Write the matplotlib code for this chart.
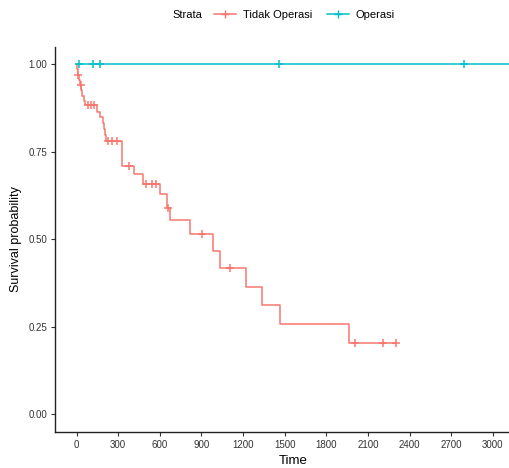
import numpy as np
import matplotlib.pyplot as plt
from matplotlib.lines import Line2D

plt.rcParams['font.family'] = ['Liberation Sans', 'DejaVu Sans']

# Kaplan-Meier estimates per stratum: event times and survival after each event
tidak_times = [0, 4, 8, 14, 22, 32, 42, 52, 62, 150, 172, 193, 200, 205, 209,
               324, 410, 482, 604, 654, 676, 820, 985, 1036, 1223, 1338, 1467, 1963]
tidak_surv = [1.0, 0.985, 0.97, 0.955, 0.94, 0.925, 0.91, 0.895, 0.882, 0.862, 0.848,
              0.832, 0.815, 0.797, 0.779, 0.71, 0.687, 0.658, 0.629, 0.589, 0.555,
              0.514, 0.466, 0.418, 0.365, 0.313, 0.259, 0.205]
tidak_censor = [10, 28, 79, 101, 122, 223, 252, 288, 374, 503, 540, 575, 661, 906,
                1107, 2006, 2208, 2301]
tidak_end = 2301

operasi_times = [0]
operasi_surv = [1.0]
operasi_censor = [20, 120, 165, 1460, 2790]
operasi_end = 3120

red = '#F8766D'
teal = '#00BFC4'


def surv_at(times, surv, t):
    idx = np.searchsorted(times, t, side='right') - 1
    return np.asarray(surv)[idx]


fig = plt.figure(figsize=(5.09, 4.68), dpi=100)
ax = fig.add_axes([55 / 509, 36 / 468, 476 / 509, 385.5 / 468])

for times, surv, cens, end, col in [
        (tidak_times, tidak_surv, tidak_censor, tidak_end, red),
        (operasi_times, operasi_surv, operasi_censor, operasi_end, teal)]:
    x = list(times) + [end]
    y = list(surv) + [surv[-1]]
    ax.step(x, y, where='post', color=col, lw=1.1)
    ax.plot(cens, surv_at(times, surv, cens), ls='none', marker='+',
            color=col, ms=6, mew=1.1)

ax.set_xlim(-156, 3276)
ax.set_ylim(-0.05, 1.05)
ax.set_xticks(np.arange(0, 3001, 300))
ax.set_yticks([0, 0.25, 0.5, 0.75, 1.0])
ax.set_yticklabels(['0.00', '0.25', '0.50', '0.75', '1.00'])
ax.tick_params(labelsize=7, colors='#333333', length=3, width=0.8, pad=2.5)
for s in ['top', 'right']:
    ax.spines[s].set_visible(False)
for s in ['left', 'bottom']:
    ax.spines[s].set_linewidth(1.0)
    ax.spines[s].set_color('#222222')

ax.set_xlabel('Time', fontsize=9.5, labelpad=4)
ax.set_ylabel('Survival probability', fontsize=9, labelpad=5)

# legend across the top
fig.text(172 / 509, 1 - 15 / 468, 'Strata', fontsize=8, va='center', ha='left')
handles = [Line2D([], [], color=red, marker='+', lw=1.1, ms=6),
           Line2D([], [], color=teal, marker='+', lw=1.1, ms=6)]
fig.legend(handles, ['Tidak Operasi', 'Operasi'], ncol=2, frameon=False,
           loc='center left', bbox_to_anchor=(204 / 509, 1 - 15 / 468),
           fontsize=8, handlelength=2.0, handletextpad=0.6, columnspacing=1.3)

fig.savefig('out.png', dpi=100)
